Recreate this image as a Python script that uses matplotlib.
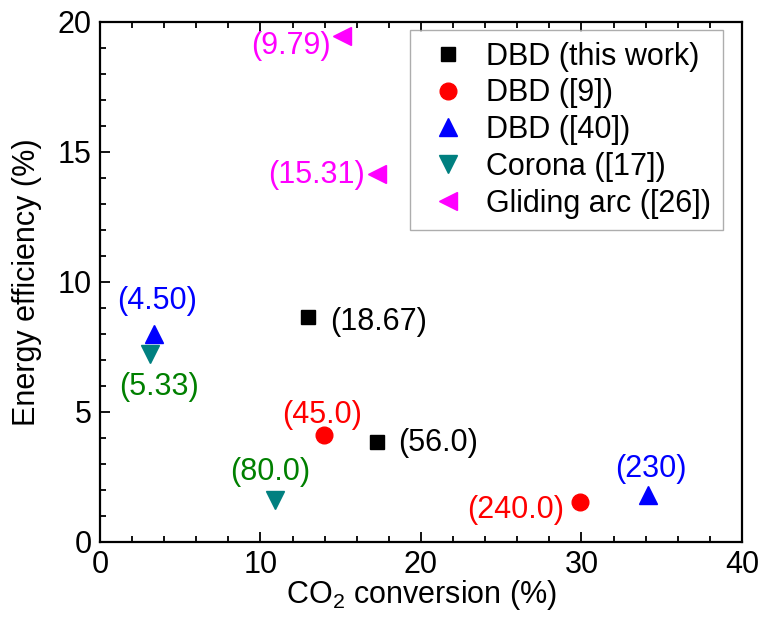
import matplotlib
matplotlib.use("Agg")
import matplotlib.pyplot as plt
from matplotlib.ticker import MultipleLocator

plt.rcParams['font.family'] = ['Liberation Sans', 'DejaVu Sans']
plt.rcParams['mathtext.fontset'] = 'custom'
plt.rcParams['mathtext.rm'] = 'Liberation Sans'

# donnees
dbd_x = [12.98, 17.28]
dbd_y = [8.64, 3.83]
dbd_lab = ['(18.67)', '(56.0)']

dbd9_x = [13.96, 29.93]
dbd9_y = [4.12, 1.53]
dbd9_lab = ['(45.0)', '(240.0)']

dbd40_x = [3.36, 34.16]
dbd40_y = [8.0, 1.8]
dbd40_lab = ['(4.50)', '(230)']

corona_x = [3.12, 10.9]
corona_y = [7.23, 1.62]
corona_lab = ['(5.33)', '(80.0)']

glid_x = [15.06, 17.27]
glid_y = [19.46, 14.15]
glid_lab = ['(9.79)', '(15.31)']

FS = 22

fig = plt.figure(figsize=(7.61, 6.44), dpi=100)
ax = fig.add_axes([0.1314, 0.1584, 0.975 - 0.1314, 0.9663 - 0.1584])

ax.plot(dbd_x, dbd_y, 's', color='black', markersize=10, linestyle='none', label='DBD (this work)')
ax.plot(dbd9_x, dbd9_y, 'o', color='#FF0000', markersize=12, linestyle='none', label='DBD ([9])')
ax.plot(dbd40_x, dbd40_y, '^', color='#0000FF', markersize=13, linestyle='none', label='DBD ([40])')
ax.plot(corona_x, corona_y, 'v', color='#008080', markersize=13, linestyle='none', label='Corona ([17])')
ax.plot(glid_x, glid_y, '<', color='#FF00FF', markersize=13, linestyle='none', label='Gliding arc ([26])')

# etiquettes a cote des points
ax.annotate(dbd_lab[0], (dbd_x[0], dbd_y[0]), xytext=(22, -5), textcoords='offset pixels',
            ha='left', va='center', fontsize=FS, color='black')
ax.annotate(dbd_lab[1], (dbd_x[1], dbd_y[1]), xytext=(21, -1), textcoords='offset pixels',
            ha='left', va='center', fontsize=FS, color='black')
ax.annotate(dbd9_lab[0], (dbd9_x[0], dbd9_y[0]), xytext=(-2, 20), textcoords='offset pixels',
            ha='center', va='center', fontsize=FS, color='#FF0000')
ax.annotate(dbd9_lab[1], (dbd9_x[1], dbd9_y[1]), xytext=(-16, -8), textcoords='offset pixels',
            ha='right', va='center', fontsize=FS, color='#FF0000')
ax.annotate(dbd40_lab[0], (dbd40_x[0], dbd40_y[0]), xytext=(3, 33), textcoords='offset pixels',
            ha='center', va='center', fontsize=FS, color='#0000FF')
ax.annotate(dbd40_lab[1], (dbd40_x[1], dbd40_y[1]), xytext=(3, 26), textcoords='offset pixels',
            ha='center', va='center', fontsize=FS, color='#0000FF')
ax.annotate(corona_lab[0], (corona_x[0], corona_y[0]), xytext=(9, -33), textcoords='offset pixels',
            ha='center', va='center', fontsize=FS, color='#008000')
ax.annotate(corona_lab[1], (corona_x[1], corona_y[1]), xytext=(-5, 28), textcoords='offset pixels',
            ha='center', va='center', fontsize=FS, color='#008000')
ax.annotate(glid_lab[0], (glid_x[0], glid_y[0]), xytext=(-11, -10), textcoords='offset pixels',
            ha='right', va='center', fontsize=FS, color='#FF00FF')
ax.annotate(glid_lab[1], (glid_x[1], glid_y[1]), xytext=(-12, -1), textcoords='offset pixels',
            ha='right', va='center', fontsize=FS, color='#FF00FF')

ax.set_xlim(0, 40)
ax.set_ylim(0, 20)
ax.xaxis.set_major_locator(MultipleLocator(10))
ax.xaxis.set_minor_locator(MultipleLocator(2))
ax.yaxis.set_major_locator(MultipleLocator(5))
ax.yaxis.set_minor_locator(MultipleLocator(1))

ax.tick_params(which='both', direction='in', top=True, right=False, width=1.3, labelsize=FS)
ax.tick_params(which='major', length=7, pad=6)
ax.tick_params(which='minor', length=4)
for s in ax.spines.values():
    s.set_linewidth(1.6)

ax.set_xlabel('CO$_2$ conversion (%)', fontsize=FS, labelpad=-2)
ax.set_ylabel('Energy efficiency (%)', fontsize=FS, labelpad=11)

leg = ax.legend(loc='upper right', bbox_to_anchor=(0.970, 0.984), borderaxespad=0, fontsize=FS,
                frameon=True, fancybox=False, edgecolor='#999999', handletextpad=0.4,
                labelspacing=0.22, borderpad=0.38, handlelength=1.7, numpoints=1)
leg.get_frame().set_linewidth(1.0)

fig.savefig('out.png', dpi=100)
